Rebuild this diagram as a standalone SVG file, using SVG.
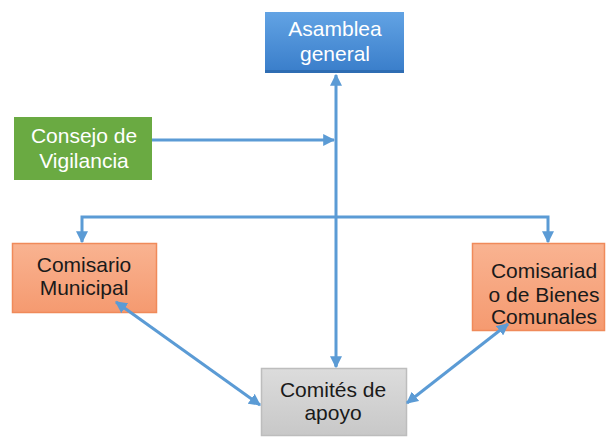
<svg xmlns="http://www.w3.org/2000/svg" width="606" height="437" viewBox="0 0 606 437">
<defs>
<linearGradient id="gBlue" x1="0" y1="0" x2="0" y2="1">
<stop offset="0" stop-color="#62a3e4"/>
<stop offset="1" stop-color="#3b7fcb"/>
</linearGradient>
<linearGradient id="gOrange" x1="0" y1="0" x2="0" y2="1">
<stop offset="0" stop-color="#f9b391"/>
<stop offset="1" stop-color="#f59a70"/>
</linearGradient>
<linearGradient id="gGray" x1="0" y1="0" x2="0" y2="1">
<stop offset="0" stop-color="#dcdcdc"/>
<stop offset="1" stop-color="#c8c8c8"/>
</linearGradient>
<marker id="ah" viewBox="0 0 10 10" refX="9" refY="5" markerWidth="4" markerHeight="4" orient="auto-start-reverse" markerUnits="strokeWidth">
<path d="M0,0 L10,5 L0,10 z" fill="#5b9bd5"/>
</marker>
</defs>
<style>
.t{font-family:"Liberation Sans",Arial,sans-serif;font-size:21px;text-anchor:middle}
.w{fill:#ffffff}
.k{fill:#1a1a1a}
.c{fill:none;stroke:#5b9bd5;stroke-width:3}
</style>
<rect width="606" height="437" fill="#ffffff"/>
<g id="asamblea">
<rect x="265" y="12" width="139" height="61" fill="#2f6db3"/>
<rect x="265" y="12" width="139" height="58" fill="url(#gBlue)"/>
<text class="t w" x="335" y="36">Asamblea</text>
<text class="t w" x="335" y="61">general</text>
</g>
<g id="consejo">
<rect x="14" y="117" width="138" height="63" fill="#6aaa42"/>
<text class="t w" x="84" y="143">Consejo de</text>
<text class="t w" x="84" y="168">Vigilancia</text>
</g>
<g id="comisario">
<rect x="12.5" y="243.5" width="144" height="69" fill="url(#gOrange)" stroke="#f08a5a" stroke-width="1.5"/>
<text class="t k" x="84" y="272">Comisario</text>
<text class="t k" x="84" y="295">Municipal</text>
</g>
<g id="comisariado">
<rect x="472.5" y="243.5" width="132" height="87" fill="url(#gOrange)" stroke="#f08a5a" stroke-width="1.5"/>
<text class="t k" x="544" y="278">Comisariad</text>
<text class="t k" x="544" y="302">o de Bienes</text>
<text class="t k" x="544" y="324">Comunales</text>
</g>
<g id="comites">
<rect x="261.5" y="368.5" width="145" height="67" fill="url(#gGray)" stroke="#bdbdbd" stroke-width="1.5"/>
<text class="t k" x="333" y="397">Comités de</text>
<text class="t k" x="333" y="420">apoyo</text>
</g>
<g id="connectors">
<line class="c" x1="336" y1="366" x2="336" y2="75" marker-end="url(#ah)"/>
<line class="c" x1="336" y1="360" x2="336" y2="367" marker-end="url(#ah)"/>
<line class="c" x1="152" y1="140" x2="334" y2="140" marker-end="url(#ah)"/>
<polyline class="c" points="82,236 82,217 548,217 548,236"/>
<line class="c" x1="82" y1="234" x2="82" y2="242" marker-end="url(#ah)"/>
<line class="c" x1="548" y1="234" x2="548" y2="242" marker-end="url(#ah)"/>
<line class="c" x1="116" y1="302" x2="260" y2="405" marker-start="url(#ah)" marker-end="url(#ah)"/>
<line class="c" x1="407" y1="403" x2="508" y2="324" marker-start="url(#ah)" marker-end="url(#ah)"/>
</g>
</svg>
